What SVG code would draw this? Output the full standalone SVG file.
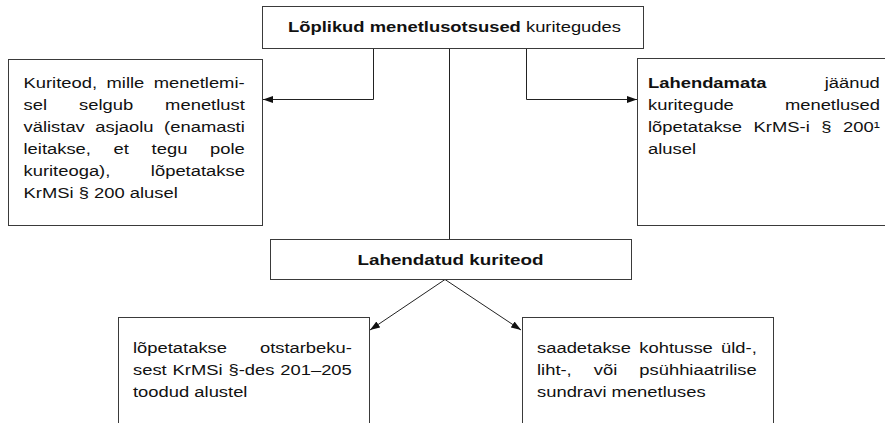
<svg xmlns="http://www.w3.org/2000/svg" width="885" height="423" viewBox="0 0 885 423">
<style>
.box{fill:#fff;stroke:#3a3a3a;stroke-width:1}
.ln{fill:none;stroke:#222;stroke-width:1}
text{font-family:"Liberation Sans",Arial,sans-serif;font-size:14.5px;fill:#111}
.b{font-weight:bold}
.m{text-anchor:middle}
.big{font-size:15px}
</style>
<defs>
<marker id="arr" markerUnits="userSpaceOnUse" markerWidth="11" markerHeight="8" refX="10" refY="3.5" orient="auto">
<path d="M0,0 L10,3.5 L0,7 z" fill="#111"/>
</marker>
</defs>
<rect width="885" height="423" fill="#fff"/>
<g id="connectors">
<path class="ln" d="M373.5,48.5 V99.5 H263" marker-end="url(#arr)"/>
<path class="ln" d="M526.5,48.5 V99.5 H637" marker-end="url(#arr)"/>
<path class="ln" d="M449.5,48.5 V239.5"/>
<path class="ln" d="M445,279.5 L370,330" marker-end="url(#arr)"/>
<path class="ln" d="M445,279.5 L521,330" marker-end="url(#arr)"/>
</g>
<g id="top">
<rect class="box" x="262.5" y="6.5" width="381" height="42"/>
<text class="m" transform="translate(454.5,32) scale(1.269,1)"><tspan class="b">Lõplikud menetlusotsused</tspan> kuritegudes</text>
</g>
<g id="left">
<rect class="box" x="8.5" y="59.5" width="254" height="166"/>
<text transform="translate(23.5,87.5) scale(1.269,1)" word-spacing="3.41">Kuriteod, mille menetlemi-</text>
<text transform="translate(23.5,109.5) scale(1.269,1)" word-spacing="21.18">sel selgub menetlust</text>
<text transform="translate(23.5,131.5) scale(1.269,1)" word-spacing="4.28">välistav asjaolu (enamasti</text>
<text transform="translate(23.5,153.5) scale(1.269,1)" word-spacing="13.84">leitakse, et tegu pole</text>
<text transform="translate(23.5,175.5) scale(1.269,1)" word-spacing="27.9">kuriteoga), lõpetatakse</text>
<text transform="translate(23.5,197.5) scale(1.269,1)">KrMSi § 200 alusel</text>
</g>
<g id="right">
<rect class="box" x="637.5" y="58.5" width="260" height="167"/>
<text transform="translate(648,87.5) scale(1.269,1)" word-spacing="41.8"><tspan class="b">Lahendamata</tspan> jäänud</text>
<text transform="translate(648,109.5) scale(1.269,1)" word-spacing="36.2">kuritegude menetlused</text>
<text transform="translate(648,131.5) scale(1.269,1)" word-spacing="5.08">lõpetatakse KrMS-i § 200¹</text>
<text transform="translate(648,153.5) scale(1.269,1)">alusel</text>
</g>
<g id="mid">
<rect class="box" x="270.5" y="239.5" width="361" height="40"/>
<text class="b m big" transform="translate(450.5,264.5) scale(1.255,1)">Lahendatud kuriteod</text>
</g>
<g id="bottomleft">
<rect class="box" x="118.5" y="317.5" width="251" height="130"/>
<text transform="translate(133,353) scale(1.269,1)" word-spacing="21.9">lõpetatakse otstarbeku-</text>
<text transform="translate(133,375) scale(1.269,1)" word-spacing="0.58">sest KrMSi §-des 201–205</text>
<text transform="translate(133,397) scale(1.269,1)">toodud alustel</text>
</g>
<g id="bottomright">
<rect class="box" x="522.5" y="317.5" width="251" height="130"/>
<text transform="translate(537,353) scale(1.269,1)" word-spacing="2.47">saadetakse kohtusse üld-,</text>
<text transform="translate(537,375) scale(1.269,1)" word-spacing="13.34">liht-, või psühhiaatrilise</text>
<text transform="translate(537,397) scale(1.269,1)">sundravi menetluses</text>
</g>
</svg>
